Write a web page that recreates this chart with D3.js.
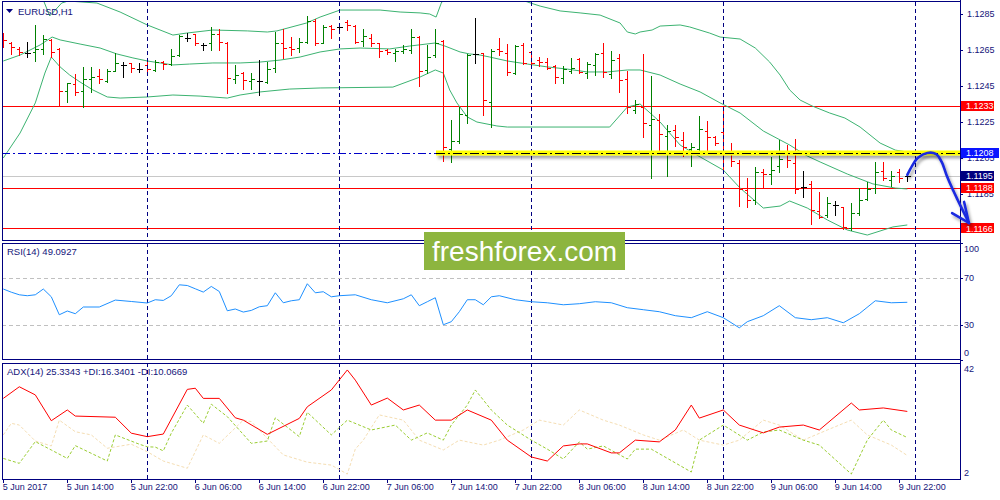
<!DOCTYPE html>
<html><head><meta charset="utf-8">
<script src="https://cdn.jsdelivr.net/npm/d3@7"></script>
<style>
body{margin:0;background:#fff;}
svg{display:block;}
text{font-family:"Liberation Sans",Arial,sans-serif;}
</style>
</head><body>
<svg id="c" width="1000" height="500"></svg>
<script>
// ---------------- DATA ----------------
const symbolTitle = "EURUSD,H1";
const rsiTitle = "RSI(14) 49.0927";
const adxTitle = "ADX(14) 25.3343 +DI:16.3401 -DI:10.0669";

const opens = [1.12734,1.12691,1.12658,1.12635,1.12641,1.12654,1.12706,1.12654,1.12424,1.12459,
1.12424,1.12489,1.12506,1.12480,1.12535,1.12567,1.12576,1.12543,1.12567,1.12539,
1.12584,1.12572,1.12622,1.12719,1.12737,1.12678,1.12687,1.12739,1.12691,1.12487,
1.12524,1.12480,1.12480,1.12474,1.12548,1.12687,1.12665,1.12659,1.12697,1.12813,
1.12691,1.12784,1.12780,1.12808,1.12784,1.12702,1.12719,1.12687,1.12650,1.12635,
1.12647,1.12650,1.12721,1.12539,1.12622,1.12702,1.12098,1.12147,1.12289,1.12628,
1.12632,1.12359,1.12654,1.12632,1.12524,1.12678,1.12641,1.12595,1.12585,1.12561,
1.12493,1.12535,1.12598,1.12524,1.12567,1.12632,1.12517,1.12604,1.12487,1.12317,
1.12335,1.12234,1.12261,1.12172,1.12206,1.12150,1.12098,1.12098,1.12202,1.12169,
1.12197,1.12072,1.12024,1.11872,1.11817,1.11974,1.11961,1.12006,1.12091,1.12024,
1.11887,1.11906,1.11758,1.11734,1.11789,1.11776,1.11659,1.11743,1.11821,1.11882,
1.11980,1.11928,1.11974,1.11950];
const highs = [1.12743,1.12693,1.12669,1.12693,1.12789,1.12734,1.12709,1.12663,1.12469,1.12515,
1.12558,1.12558,1.12543,1.12543,1.12632,1.12582,1.12580,1.12580,1.12585,1.12595,
1.12591,1.12654,1.12734,1.12747,1.12739,1.12691,1.12776,1.12765,1.12693,1.12567,
1.12530,1.12524,1.12595,1.12585,1.12752,1.12765,1.12721,1.12715,1.12839,1.12821,
1.12789,1.12789,1.12798,1.12817,1.12789,1.12765,1.12739,1.12691,1.12654,1.12654,
1.12678,1.12765,1.12728,1.12678,1.12765,1.12706,1.12261,1.12335,1.12628,1.12826,
1.12635,1.12654,1.12715,1.12684,1.12678,1.12687,1.12647,1.12613,1.12604,1.12567,
1.12561,1.12604,1.12604,1.12585,1.12635,1.12691,1.12645,1.12628,1.12535,1.12372,
1.12628,1.12506,1.12295,1.12234,1.12234,1.12197,1.12132,1.12284,1.12258,1.12172,
1.12339,1.12132,1.12039,1.11937,1.11998,1.11987,1.12054,1.12150,1.12122,1.12154,
1.11980,1.11924,1.11863,1.11835,1.11813,1.11780,1.11802,1.11882,1.11919,1.12030,
1.12030,1.11980,1.11987,1.11969];
const lows = [1.12669,1.12628,1.12622,1.12613,1.12591,1.12626,1.12613,1.12339,1.12359,1.12400,
1.12332,1.12419,1.12465,1.12471,1.12534,1.12502,1.12526,1.12530,1.12530,1.12534,
1.12543,1.12567,1.12617,1.12702,1.12678,1.12650,1.12650,1.12650,1.12413,1.12469,
1.12432,1.12432,1.12400,1.12465,1.12530,1.12604,1.12622,1.12641,1.12691,1.12678,
1.12687,1.12715,1.12761,1.12761,1.12691,1.12672,1.12672,1.12613,1.12626,1.12589,
1.12632,1.12635,1.12450,1.12524,1.12613,1.12035,1.12030,1.12132,1.12243,1.12580,
1.12289,1.12221,1.12622,1.12511,1.12517,1.12572,1.12561,1.12561,1.12543,1.12469,
1.12465,1.12524,1.12524,1.12493,1.12511,1.12502,1.12493,1.12419,1.12302,1.12302,
1.12169,1.11937,1.12072,1.11950,1.12117,1.12061,1.12006,1.12076,1.12085,1.12122,
1.11969,1.12006,1.11784,1.11776,1.11795,1.11882,1.11906,1.11974,1.11998,1.11858,
1.11835,1.11684,1.11715,1.11724,1.11734,1.11654,1.11650,1.11734,1.11817,1.11858,
1.11928,1.11895,1.11919,1.11924];
const closes = [1.12706,1.12665,1.12641,1.12635,1.12654,1.12709,1.12641,1.12424,1.12465,1.12419,
1.12489,1.12498,1.12491,1.12535,1.12580,1.12567,1.12552,1.12543,1.12543,1.12585,
1.12572,1.12619,1.12728,1.12719,1.12687,1.12678,1.12739,1.12697,1.12493,1.12513,
1.12484,1.12491,1.12480,1.12543,1.12687,1.12659,1.12654,1.12697,1.12813,1.12687,
1.12780,1.12765,1.12780,1.12787,1.12693,1.12728,1.12687,1.12647,1.12641,1.12647,
1.12654,1.12724,1.12535,1.12613,1.12691,1.12109,1.12147,1.12295,1.12622,1.12628,
1.12372,1.12647,1.12647,1.12530,1.12672,1.12580,1.12580,1.12584,1.12548,1.12502,
1.12543,1.12548,1.12530,1.12572,1.12628,1.12530,1.12595,1.12484,1.12332,1.12350,
1.12243,1.12265,1.12184,1.12202,1.12169,1.12113,1.12113,1.12209,1.12169,1.12132,
1.12080,1.12035,1.11876,1.11817,1.11974,1.11961,1.11984,1.12047,1.12039,1.11876,
1.11887,1.11761,1.11724,1.11798,1.11789,1.11669,1.11743,1.11817,1.11876,1.11974,
1.11937,1.11950,1.11937,1.11950];

// Bollinger bands, read at sample bars: [bar index, price]
const bbUpper = [[4,1.13039],[5.8,1.12839],[6.5,1.12872],[7.3,1.12911],[8.1,1.12922],[11.7,1.12911],[14.6,1.12861],
[18,1.12789],[21.2,1.12733],[22.9,1.12744],[26.2,1.12761],[30.5,1.12756],[33,1.1275],[34.2,1.12756],[37.9,1.128],
[39.6,1.12833],[42.1,1.12872],[47.1,1.12872],[49.6,1.12861],[52.1,1.12856],[53.3,1.1285],[54.1,1.12833],
[54.8,1.12917],[56.7,1.12944],[58.3,1.12978],[62.1,1.12972],[65.5,1.12917],[67.1,1.12894],[69.6,1.12867],
[72.1,1.12856],[74.6,1.12844],[77.1,1.128],[78,1.1275],[79,1.12739],[79.6,1.1275],[81.1,1.12761],[82.1,1.12783],
[84.6,1.12789],[85.8,1.12778],[88.3,1.12744],[89.6,1.12722],[92.1,1.12711],[94,1.12661],[95.8,1.12583],
[97.1,1.12511],[98.3,1.12428],[99.6,1.12372],[101.1,1.12339],[103.3,1.123],[105.2,1.12272],[107.1,1.12222],
[109.6,1.12133],[111.5,1.12094],[113,1.12083]];
const bbMiddle = [[0,1.12589],[2.1,1.12622],[4.6,1.12678],[6.1,1.12722],[7.1,1.12706],[9.6,1.12683],[12.1,1.12661],
[14.2,1.12628],[16.2,1.12606],[18,1.12589],[19.6,1.12578],[21.2,1.12567],[23.3,1.12572],[26.2,1.12578],
[29.6,1.12578],[32.1,1.12583],[34.6,1.12594],[37.1,1.12611],[39.6,1.12639],[42.1,1.12656],[44.6,1.12661],
[48.3,1.12656],[50.8,1.12672],[54,1.12689],[55.2,1.12672],[57.1,1.12639],[58.3,1.12628],[59.6,1.12622],
[60.8,1.12611],[63,1.12589],[65.5,1.12572],[68,1.12556],[70.5,1.12544],[73,1.12528],[75.5,1.12528],
[78,1.12539],[79.6,1.12539],[82.1,1.12511],[84.6,1.12461],[87.1,1.12417],[89.6,1.12356],[92.1,1.123],
[95,1.122],[98.3,1.12122],[100.5,1.12061],[102.1,1.12028],[105.5,1.11961],[108.7,1.11906],[111.5,1.11883],[113,1.11878]];
const bbLower = [[0,1.1205],[2.1,1.12189],[4,1.12356],[5.2,1.12522],[6,1.12611],[7.1,1.12556],[8.3,1.12511],
[9.6,1.12472],[11.2,1.12428],[13,1.12389],[14.6,1.12383],[18,1.12389],[21.2,1.124],[24.6,1.12394],[28,1.12383],
[29.6,1.124],[32.1,1.12417],[35.8,1.12433],[39.6,1.12439],[48.7,1.12444],[52.1,1.125],[54,1.12539],[55,1.12522],
[55.8,1.12428],[56.7,1.12356],[58,1.12278],[59.2,1.1225],[61.7,1.12228],[63,1.12222],[75.8,1.12222],[78,1.12333],
[79.6,1.1235],[82.1,1.1225],[84.6,1.12122],[87.1,1.12056],[90,1.11983],[92.1,1.11883],[95,1.11772],[97.1,1.11783],
[98.3,1.11811],[100.5,1.11772],[103,1.11706],[105.5,1.1165],[108,1.11622],[111.2,1.11667],[113,1.11678]];

// RSI(14), sampled bars
const rsiPts = [[0,60.4],[1,57.7],[2,55.5],[3,54.7],[4,55.5],[5,60.4],[6,53.8],[7,38.5],[8,41.7],[9,39.4],[10,45.1],
[12,45.1],[14,51],[16,49.8],[18,48.5],[19,51.3],[20,50.7],[21,54.7],[22,64],[23,63.4],[24,60.6],[25,57.8],[26,62.6],
[27,58.3],[28,41.9],[29,43.4],[30,40.8],[31,42.2],[32,45.3],[33,46.2],[34,57.2],[35,48.7],[36,50.4],[37,51.3],
[38,64.9],[39,57.2],[40,58.1],[41,53.8],[42,54.7],[44,55.5],[46,51.3],[48,48.7],[50,52.1],[51,55.5],[52,46.2],
[53,49.6],[54,53],[55,30],[56,32.6],[57,41.1],[58,51.3],[59,51.3],[60,47],[61,53.8],[62,54.7],[64,51.3],[66,49.6],
[68,48.7],[70,47],[72,47.9],[74,49.6],[76,48.7],[78,44.5],[80,42.8],[82,41.1],[84,37.7],[86,36],[88,41.1],[90,36],
[92,27.4],[93,32.6],[95,37.7],[97,46.2],[99,36],[101,34.3],[103,36],[105,31.7],[107,39.4],[109,50.4],[111,48.7],[113,49.1]];

// ADX(14) lines, sampled bars
const adxPts = [[0,29.8],[2,33.8],[4,31],[6,22.1],[8,25.8],[9,23.7],[14,23.3],[16,17.8],[18,16.6],[20,17.5],[23,32.9],
[24,33.3],[25,29.8],[27,29.8],[29,23.1],[30,22.3],[33,17.4],[37,22.9],[38,26.9],[41,32.7],[43,39.6],[44,36.1],
[46,27.5],[48,29.9],[50,25.8],[52,27.5],[54,22.3],[56,22.3],[58,25.8],[61,22.3],[63,15.4],[66,9.6],[68,8.2],
[70,13.4],[72,14.1],[73,14.1],[76,11],[77,11],[79,15.4],[82,14.8],[84,18.9],[86,27.5],[87,23],[90,25.8],[92,20.6],
[95,17.9],[97,19.9],[100,20.6],[102,18.9],[106,28.2],[107,25.8],[110,26.5],[113,25.3]];
const plusDiPts = [[0,9.1],[2,7.4],[4,14.9],[6,12],[8,9.1],[9,13.5],[13,8.2],[14,17.2],[17,14],[18,13.1],[19,13],
[20,11.7],[21,17.8],[23,27.5],[25,21.2],[26,27.8],[28,23.5],[31,14.3],[33,15.1],[34,23.1],[37,16.6],[38,25],[41,17.2],
[43,22.3],[46,18.9],[49,20.6],[51,15.4],[53,17.9],[55,15.4],[56,20.6],[58,27.5],[59,32.7],[61,25.8],[63,20.6],
[66,15.4],[68,12.3],[70,8.9],[72,14.8],[73,12.3],[75,13.4],[78,8.9],[79,12.3],[81,12.3],[86,4.4],[87,15.4],[90,20.6],
[91,18.9],[93,15.4],[95,18.2],[97,18.9],[100,15.4],[102,13.7],[106,3.7],[108,15.4],[110,22.3],[111,18.9],[113,16.3]];
const minusDiPts = [[0,17.2],[1,21.2],[2,20.6],[4,15.1],[6,13.4],[7,22.3],[9,18.3],[11,17.2],[13,12.6],[16,14],[18,11.4],
[20,8.2],[23,5.7],[25,17.2],[27,14.3],[30,22.3],[31,21.8],[33,16],[35,10.3],[38,7.8],[41,6.8],[43,3.7],[44,12.3],
[45,15.4],[47,24.1],[50,22.3],[52,15.4],[55,12],[57,15.4],[60,13.7],[62,15.4],[65,18.9],[67,22.3],[70,20.6],[72,25.8],
[75,22.3],[77,20.6],[80,17.2],[82,15.4],[85,18.9],[87,15.4],[90,13.7],[92,15.4],[95,22.3],[97,20.6],[100,15.4],
[103,18.9],[106,22.3],[108,17.2],[111,13.7],[113,10.1]];

const timeLabels = ["5 Jun 2017","5 Jun 14:00","5 Jun 22:00","6 Jun 06:00","6 Jun 14:00","6 Jun 22:00",
"7 Jun 06:00","7 Jun 14:00","7 Jun 22:00","8 Jun 06:00","8 Jun 14:00","8 Jun 22:00","9 Jun 06:00","9 Jun 14:00","9 Jun 22:00"];
const timeTickBars = [0,8,16,24,32,40,48,56,64,72,80,88,96,104,112];
const daySeparatorBars = [18,42,66,90,114];
const priceTicks = [1.1285,1.1265,1.1245,1.1225,1.1205,1.1185];
const rsiTicks = [100,70,30,0];
const rsiLevels = [70,30];
const adxTicks = [42,2];

const redLevels = [1.12339,1.11882,1.11659];
const currentPrice = 1.1195;
const resistanceLevel = 1.12078;
const supportTrend = [[100.9,1.11674],[120,1.11674]];
const priceBoxes = [
  {label:"1.1233", v:1.12339, fill:"#ff0000", w:33},
  {label:"1.1208", v:1.12078, fill:"#0a14ff", w:38},
  {label:"1.1195", v:1.1195,  fill:"#000080", w:33},
  {label:"1.1188", v:1.11882, fill:"#ff0000", w:33},
  {label:"1.1166", v:1.11659, fill:"#ff0000", w:33}
];
// hand-drawn forecast arrow, in [bar index, price]
const arrowPts = [[113,1.11956],[113.6,1.12006],[114.3,1.1205],[115.5,1.12078],[116.6,1.12072],[117.3,1.12028],
[117.9,1.11956],[118.6,1.11883],[119.3,1.11817],[120.1,1.11744],[120.7,1.11689]];
const arrowHeadL = [[118.6,1.11744],[120.7,1.11689]];
const arrowHeadR = [[120.1,1.11806],[120.7,1.11689]];
const watermark = "freshforex.com";

// ---------------- SCALES ----------------
const svg = d3.select("#c");
const XL = 2, XR = 960;
const x = d3.scaleLinear().domain([0,114]).range([3.3,915.3]);
const yP = d3.scaleLinear().domain([1.1159444,1.1291667]).range([240,2]);
const yR = d3.scaleLinear().domain([0,100]).range([360,242.5]);
const yA = d3.scaleLinear().domain([2,42]).range([479,363]);
const cx = v => Math.round(v)+0.5;
const navy = "#000080";
const txtCol = "#14147a";

const defs = svg.append("defs");
[["clipMain",2,2,958,238],["clipRsi",2,243,958,116],["clipAdx",2,363,958,116]].forEach(c=>{
  defs.append("clipPath").attr("id",c[0]).append("rect").attr("x",c[1]).attr("y",c[2]).attr("width",c[3]).attr("height",c[4]);
});
const f = defs.append("filter").attr("id","shadow").attr("x","-10%").attr("y","-100%").attr("width","120%").attr("height","400%");
f.append("feGaussianBlur").attr("in","SourceAlpha").attr("stdDeviation",1.6).attr("result","blur");
f.append("feOffset").attr("in","blur").attr("dx",2).attr("dy",3).attr("result","off");
f.append("feFlood").attr("flood-color","#000").attr("flood-opacity",0.35);
f.append("feComposite").attr("in2","off").attr("operator","in").attr("result","sh");
const fm = f.append("feMerge"); fm.append("feMergeNode").attr("in","sh"); fm.append("feMergeNode").attr("in","SourceGraphic");

svg.append("rect").attr("width",1000).attr("height",500).attr("fill","#fff");

// ---------------- MAIN PANEL ----------------
const gM = svg.append("g").attr("clip-path","url(#clipMain)");
const lineP = d3.line().x(d=>x(d[0])).y(d=>yP(d[1]));

const sepG = svg.append("g");
daySeparatorBars.forEach(b=>{
  [[2,240],[243,359],[363,479]].forEach(r=>{
    sepG.append("line").attr("x1",cx(x(b))).attr("x2",cx(x(b))).attr("y1",r[0]).attr("y2",r[1])
      .attr("stroke",navy).attr("stroke-width",1).attr("stroke-dasharray","4,3").attr("shape-rendering","crispEdges");
  });
});

redLevels.forEach(v=>{
  gM.append("line").attr("x1",XL).attr("x2",XR).attr("y1",cx(yP(v))).attr("y2",cx(yP(v)))
    .attr("stroke","#ff0000").attr("stroke-width",1).attr("shape-rendering","crispEdges");
});
gM.append("line").attr("x1",XL).attr("x2",XR).attr("y1",cx(yP(currentPrice))).attr("y2",cx(yP(currentPrice)))
  .attr("stroke","#c8c8c8").attr("stroke-width",1).attr("shape-rendering","crispEdges");

gM.append("path").attr("d",lineP(supportTrend)).attr("stroke","#ffff00").attr("stroke-width",1.3).attr("fill","none")
  .attr("filter","url(#shadow)");

[bbUpper,bbMiddle,bbLower].forEach(arr=>{
  gM.append("path").attr("d",lineP(arr)).attr("fill","none").attr("stroke","#3cb371").attr("stroke-width",1);
});

const ry = yP(resistanceLevel);
gM.append("line").attr("x1",XL).attr("x2",436).attr("y1",cx(ry)).attr("y2",cx(ry))
  .attr("stroke","#0000c8").attr("stroke-dasharray","8,3,2,3").attr("shape-rendering","crispEdges");
svg.append("rect").attr("x",436).attr("y",ry-2.5).attr("width",XR-436+2).attr("height",5)
  .attr("fill","#ffff00").attr("filter","url(#shadow)");
svg.append("line").attr("x1",436).attr("x2",XR).attr("y1",cx(ry)).attr("y2",cx(ry))
  .attr("stroke","#000").attr("stroke-dasharray","9,3,2,3").attr("shape-rendering","crispEdges");

const barG = gM.append("g").attr("shape-rendering","crispEdges");
opens.forEach((o,i)=>{
  const c = closes[i];
  const col = c>o ? "#008000" : (c<o ? "#ff0000" : "#000000");
  const xx = cx(x(i));
  const g = barG.append("g").attr("stroke",col).attr("stroke-width",1);
  g.append("line").attr("x1",xx).attr("x2",xx).attr("y1",Math.round(yP(highs[i]))).attr("y2",Math.round(yP(lows[i]))+1);
  g.append("line").attr("x1",xx-3).attr("x2",xx).attr("y1",cx(yP(o))).attr("y2",cx(yP(o)));
  g.append("line").attr("x1",xx).attr("x2",xx+3.5).attr("y1",cx(yP(c))).attr("y2",cx(yP(c)));
});

svg.append("path").attr("d","M6,9 L13,9 L9.5,13 Z").attr("fill",navy);
svg.append("text").attr("x",18).attr("y",14.5).attr("font-size",9.5).attr("fill",txtCol).text(symbolTitle);

// ---------------- RSI PANEL ----------------
const gR = svg.append("g").attr("clip-path","url(#clipRsi)");
rsiLevels.forEach(v=>{
  gR.append("line").attr("x1",XL).attr("x2",XR).attr("y1",cx(yR(v))).attr("y2",cx(yR(v)))
    .attr("stroke","#c0c0c0").attr("stroke-dasharray","4,3").attr("shape-rendering","crispEdges");
});
gR.append("path").attr("d",d3.line().x(d=>x(d[0])).y(d=>yR(d[1]))(rsiPts)).attr("fill","none")
  .attr("stroke","#1e90ff").attr("stroke-width",1);
svg.append("text").attr("x",7).attr("y",254.5).attr("font-size",9.5).attr("fill",txtCol).text(rsiTitle);

// ---------------- ADX PANEL ----------------
const gA = svg.append("g").attr("clip-path","url(#clipAdx)");
const lineA = d3.line().x(d=>x(d[0])).y(d=>yA(d[1]));
gA.append("path").attr("d",lineA(minusDiPts)).attr("fill","none").attr("stroke","#f5deb3").attr("stroke-width",1).attr("stroke-dasharray","3,2");
gA.append("path").attr("d",lineA(plusDiPts)).attr("fill","none").attr("stroke","#9acd32").attr("stroke-width",1).attr("stroke-dasharray","3,2");
gA.append("path").attr("d",lineA(adxPts)).attr("fill","none").attr("stroke","#ff0000").attr("stroke-width",1);
svg.append("text").attr("x",7).attr("y",374.5).attr("font-size",9.5).attr("fill",txtCol).text(adxTitle);

// ---------------- FRAMES ----------------
[[2,1.5,240],[2,243,359.5],[2,363,479]].forEach(r=>{
  svg.append("rect").attr("x",r[0]+0.5).attr("y",Math.floor(r[1])+0.5).attr("width",XR-r[0]).attr("height",Math.floor(r[2])-Math.floor(r[1]))
    .attr("fill","none").attr("stroke",navy).attr("stroke-width",1).attr("shape-rendering","crispEdges");
});
svg.append("line").attr("x1",XR+0.5).attr("x2",XR+0.5).attr("y1",0).attr("y2",480).attr("stroke",navy).attr("shape-rendering","crispEdges");

// ---------------- AXES ----------------
function styleAxis(g){
  g.select(".domain").remove();
  g.selectAll("line").attr("stroke",navy).attr("shape-rendering","crispEdges");
  g.selectAll("text").attr("fill",txtCol).attr("font-size",9).attr("font-family","Liberation Sans, Arial, sans-serif");
}
const axP = svg.append("g").attr("transform",`translate(${XR},0)`)
  .call(d3.axisRight(yP).tickValues(priceTicks).tickFormat(d3.format(".4f")).tickSize(3).tickPadding(4));
styleAxis(axP);

const axR = svg.append("g").attr("transform",`translate(${XR},0)`)
  .call(d3.axisRight(yR).tickValues(rsiTicks).tickSize(3).tickPadding(1));
styleAxis(axR);
axR.selectAll(".tick").filter(d=>d===100).select("text").attr("y",6.5);
axR.selectAll(".tick").filter(d=>d===0).select("text").attr("y",-7);

const axA = svg.append("g").attr("transform",`translate(${XR},0)`)
  .call(d3.axisRight(yA).tickValues(adxTicks).tickSize(3).tickPadding(1));
styleAxis(axA);
axA.selectAll(".tick").filter(d=>d===42).select("text").attr("y",6);
axA.selectAll(".tick").filter(d=>d===2).select("text").attr("y",-6);
axA.selectAll(".tick line").remove();

const axT = svg.append("g").attr("transform","translate(0,479)")
  .call(d3.axisBottom(x).tickValues(timeTickBars).tickFormat((d,i)=>timeLabels[i]).tickSize(4));
styleAxis(axT);
axT.selectAll(".tick line").attr("transform","translate(-0.5,0)");
axT.selectAll("text").attr("text-anchor","start").attr("x",-1).attr("y",5);

// ---------------- PRICE BOXES ----------------
priceBoxes.forEach(b=>{
  const yy = yP(b.v);
  svg.append("rect").attr("x",961).attr("y",Math.round(yy-5)).attr("width",b.w).attr("height",10).attr("fill",b.fill);
  svg.append("text").attr("x",966).attr("y",yy).attr("dy","0.36em").attr("font-size",9).attr("fill","#fff").text(b.label);
});

// ---------------- ARROW ----------------
const arrowG = svg.append("g").attr("filter","url(#shadow)").attr("fill","none").attr("stroke","#1a2ce0")
  .attr("stroke-width",2.6).attr("stroke-linecap","round").attr("stroke-linejoin","round");
arrowG.append("path").attr("d",d3.line().curve(d3.curveCatmullRom).x(d=>x(d[0])).y(d=>yP(d[1]))(arrowPts));
arrowG.append("path").attr("d",lineP(arrowHeadL));
arrowG.append("path").attr("d",lineP(arrowHeadR));

// ---------------- WATERMARK ----------------
svg.append("rect").attr("x",424).attr("y",232).attr("width",201).attr("height",38).attr("fill","#8db53f");
svg.append("text").attr("x",432).attr("y",261).attr("font-size",27).attr("fill","#fff")
  .attr("font-family","Open Sans, Roboto, sans-serif").attr("textLength",185).attr("lengthAdjust","spacingAndGlyphs").text(watermark);
</script>
</body></html>
